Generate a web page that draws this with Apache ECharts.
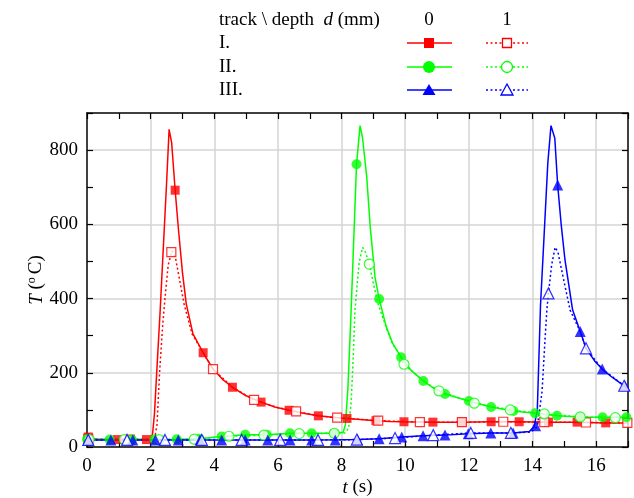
<!DOCTYPE html>
<html><head><meta charset="utf-8">
<script src="https://cdn.jsdelivr.net/npm/echarts@6/dist/echarts.min.js"></script>
<style>html,body{margin:0;padding:0;background:#fff}#c{width:634px;height:498px}</style>
</head><body><div id="c"></div>
<script>
// ---- tick labels ----
const xLabelValues = [0, 2, 4, 6, 8, 10, 12, 14, 16];
const yLabelValues = [0, 200, 400, 600, 800];
// ---- legend texts ----
const trackNames = ['I.', 'II.', 'III.'];
const depthNames = ['0', '1'];
// ---- curves [t (s), T (°C)] ----
const I_d0_curve = [[0,27],[0.3,21],[1,20],[1.5,20],[2.0,21],[2.06,35],[2.12,90],[2.19,200],[2.3,369],[2.4,540],[2.5,710],[2.58,856],[2.66,820],[2.77,692],[2.87,590],[3.0,470],[3.12,385],[3.33,305],[3.65,254],[3.96,210],[4.25,183],[4.57,161],[5.0,138],[5.47,121],[5.9,108],[6.35,99],[6.8,91],[7.27,84],[7.7,80],[8.17,77],[8.6,74],[9.08,71],[9.5,69],[9.96,68],[10.87,67],[11.78,67],[12.7,68],[13.58,68],[14.5,67],[15.4,67],[16.3,65],[17,65]];
const I_d1_curve = [[0,22],[1,20],[2,20],[2.12,21],[2.2,60],[2.28,200],[2.38,330],[2.45,400],[2.55,490],[2.67,528],[2.78,510],[2.9,455],[3.05,385],[3.3,305],[3.65,254],[3.96,210],[4.57,161],[5.25,127],[6.0,106],[6.57,96],[7.27,84],[7.86,79],[8.5,75],[9.15,71],[10.46,67],[11.78,67],[13.08,68],[14.37,67],[15.68,66],[17,65]];
const II_d0_curve = [[0,21],[1,20],[2,20],[3,21],[3.53,22],[4.23,28],[4.97,33],[5.65,33],[6.38,37],[7.06,37],[7.77,37],[8.05,40],[8.12,60],[8.2,160],[8.3,369],[8.47,762],[8.58,866],[8.66,832],[8.79,728],[8.9,593],[9.05,458],[9.18,399],[9.4,325],[9.6,280],[9.87,242],[10.2,205],[10.57,178],[10.9,158],[11.25,143],[12.0,124],[12.7,108],[13.4,97],[14.08,91],[14.77,84],[15.5,81],[16.2,80],[17,80]];
const II_d1_curve = [[0,20],[1,20],[2,20],[3,21],[3.37,21],[4.46,29],[5.56,32],[6.67,36],[7.77,37],[8.1,38],[8.22,50],[8.3,120],[8.37,250],[8.42,369],[8.55,496],[8.66,538],[8.75,525],[8.87,493],[9.0,440],[9.15,385],[9.4,322],[9.6,278],[9.87,242],[9.96,223],[10.57,178],[11.06,151],[12.17,118],[13.3,100],[14.37,89],[15.5,81],[16.6,79],[17,79]];
const III_d0_curve = [[0,19],[2,19],[4,19],[6,19],[7,19],[8,19.5],[8.5,20],[9.18,22],[9.89,27],[10.56,30],[11.25,32],[11.98,36],[12.69,38],[13.39,38],[13.9,42],[14.05,55],[14.15,100],[14.25,380],[14.48,765],[14.58,866],[14.7,832],[14.79,706],[14.9,600],[15.02,504],[15.26,369],[15.5,311],[15.68,266],[15.95,232],[16.19,210],[16.5,188],[16.88,165],[17,158]];
const III_d1_curve = [[0,19],[2,19],[4,19],[6,19],[7.26,19],[8.48,20],[9.68,24],[10.88,32],[12.06,38],[13.32,38],[13.95,40],[14.15,55],[14.3,150],[14.4,300],[14.45,369],[14.5,414],[14.6,490],[14.71,538],[14.8,525],[14.96,458],[15.18,369],[15.5,311],[15.68,266],[16.19,210],[16.88,165],[17,160]];
// ---- markers ----
const I_d0_marks = [[0.04,27],[0.95,20],[1.87,20],[2.77,692],[3.65,254],[4.57,161],[5.47,121],[6.35,99],[7.27,84],[8.17,77],[9.08,71],[9.96,68],[10.87,67],[11.78,67],[12.7,68],[13.58,68],[14.5,67],[15.4,67],[16.3,65]];
const I_d1_marks = [[0.04,22],[1.35,20],[2.65,525],[3.96,210],[5.25,127],[6.57,96],[7.86,79],[9.15,71],[10.46,67],[11.78,67],[13.08,68],[14.37,67],[15.68,66],[16.98,65]];
const II_d0_marks = [[0.0,21],[0.71,20],[1.41,20],[2.12,20],[2.82,21],[3.53,22],[4.23,28],[4.97,33],[5.65,33],[6.38,37],[7.06,37],[7.77,37],[8.47,762],[9.18,399],[9.87,242],[10.57,178],[11.25,143],[12.0,124],[12.7,108],[13.4,97],[14.08,91],[14.77,84],[15.5,81],[16.2,80],[16.95,80]];
const II_d1_marks = [[0.07,20],[1.17,20],[2.26,20],[3.37,21],[4.46,29],[5.56,32],[6.67,36],[7.77,37],[8.87,493],[9.96,223],[11.06,151],[12.17,118],[13.3,100],[14.37,89],[15.5,81],[16.6,79]];
const III_d0_marks = [[0.04,19],[0.75,19],[1.44,19],[2.15,19],[2.87,19],[3.55,19],[4.23,19],[4.97,19],[5.68,19],[6.38,19],[7.06,19],[7.8,19],[8.5,20],[9.18,22],[9.89,27],[10.56,30],[11.25,32],[11.98,36],[12.69,38],[13.39,38],[14.1,57],[14.79,706],[15.5,311],[16.19,210],[16.9,165]];
const III_d1_marks = [[0.04,19],[1.26,19],[2.45,19],[3.61,19],[4.86,19],[6.07,19],[7.26,19],[8.48,20],[9.68,24],[10.88,32],[12.06,38],[13.32,38],[14.5,414],[15.68,266],[16.88,165]];

const colors = ['#ff0000', '#00ff00', '#0000ff'];
const FONT = '"Liberation Serif", "Times New Roman", serif';
const FS = 19;

const curves = [[I_d0_curve, I_d1_curve], [II_d0_curve, II_d1_curve], [III_d0_curve, III_d1_curve]];
const marks = [[I_d0_marks, I_d1_marks], [II_d0_marks, II_d1_marks], [III_d0_marks, III_d1_marks]];
const symbols = ['rect', 'circle', 'triangle'];
const symSizes = [9, 10, 11];

const series = [];
curves.forEach((pair, k) => {
  pair.forEach((data, d) => {
    series.push({
      type: 'line', data: data, showSymbol: false, symbol: 'none', smooth: false,
      xAxisIndex: 0, yAxisIndex: 0, z: 2, animation: false,
      lineStyle: { color: colors[k], width: 1.5, type: d === 0 ? 'solid' : [2, 2.5] }
    });
  });
});
marks.forEach((pair, k) => {
  pair.forEach((data, d) => {
    series.push({
      type: 'scatter', data: data, symbol: symbols[k], symbolSize: symSizes[k],
      xAxisIndex: 0, yAxisIndex: 0, z: 3, animation: false,
      itemStyle: d === 0 ? { color: colors[k] } : { color: '#ffffff', borderColor: colors[k], borderWidth: 1.2 }
    });
  });
});

const axisLineStyle = { show: true, onZero: false, lineStyle: { color: '#000', width: 1.5 } };
const tickStyle = { show: true, inside: true, length: 6, lineStyle: { color: '#000', width: 1.2 } };
const labelStyle = { color: '#000', fontFamily: FONT, fontSize: FS };

const xAxis = [
  { type: 'value', min: 0, max: 17, interval: 1, position: 'bottom', z: 3,
    axisLine: axisLineStyle, axisTick: tickStyle, splitLine: { show: false },
    axisLabel: Object.assign({ margin: 10, formatter: v => xLabelValues.includes(v) ? String(v) : '' }, labelStyle),
    name: '{i|t} (s)', nameLocation: 'middle', nameGap: 31, nameMoveOverlap: false,
    nameTextStyle: { color: '#000', fontFamily: FONT, fontSize: FS, rich: { i: { fontStyle: 'italic', fontFamily: FONT, fontSize: FS } } } },
  { type: 'value', min: 0, max: 17, interval: 1, position: 'top', z: 3,
    axisLine: axisLineStyle, axisTick: tickStyle, splitLine: { show: false }, axisLabel: { show: false } },
  { type: 'value', min: 0, max: 17, interval: 2, position: 'bottom', z: 1,
    axisLine: { show: false }, axisTick: { show: false }, axisLabel: { show: false },
    splitLine: { show: true, showMinLine: false, showMaxLine: false, lineStyle: { color: '#d4d4d4', width: 1.5 } } }
];
const yAxis = [
  { type: 'value', min: 0, max: 900, interval: 100, position: 'left', z: 3,
    axisLine: axisLineStyle, axisTick: tickStyle, splitLine: { show: false },
    axisLabel: Object.assign({ margin: 9, formatter: v => yLabelValues.includes(v) ? String(v) : '' }, labelStyle),
    name: '{i|T} ({s|o }C)', nameLocation: 'middle', nameGap: 40, nameMoveOverlap: false,
    nameTextStyle: { color: '#000', fontFamily: FONT, fontSize: FS,
      rich: { i: { fontStyle: 'italic', fontFamily: FONT, fontSize: FS }, s: { fontFamily: FONT, fontSize: 12, padding: [0, 0, 9, 0] } } } },
  { type: 'value', min: 0, max: 900, interval: 100, position: 'right', z: 3,
    axisLine: axisLineStyle, axisTick: tickStyle, splitLine: { show: false }, axisLabel: { show: false } },
  { type: 'value', min: 0, max: 900, interval: 200, position: 'left', z: 1,
    axisLine: { show: false }, axisTick: { show: false }, axisLabel: { show: false },
    splitLine: { show: true, showMinLine: false, showMaxLine: false, lineStyle: { color: '#d4d4d4', width: 1.5 } } }
];

// ---- legend table (decoration) ----
const graphic = [];
const txt = { fontFamily: FONT, fontSize: FS, fill: '#000', verticalAlign: 'middle' };
graphic.push({ type: 'text', x: 219, y: 20, style: Object.assign({ text: 'track \\ depth  {i|d} (mm)', align: 'left',
  rich: { i: { fontStyle: 'italic', fontFamily: FONT, fontSize: FS } } }, txt) });
const colX = [429, 507];
const lineX = [[407, 452], [486, 528]];
depthNames.forEach((nm, d) => {
  graphic.push({ type: 'text', x: colX[d], y: 20, style: Object.assign({ text: nm, align: 'center' }, txt) });
});
const rowY = [43, 67, 90];
trackNames.forEach((nm, k) => {
  const y = rowY[k];
  graphic.push({ type: 'text', x: 219, y: y, style: Object.assign({ text: nm, align: 'left' }, txt) });
  depthNames.forEach((_, d) => {
    const cx = colX[d];
    graphic.push({ type: 'line', shape: { x1: lineX[d][0], y1: y, x2: lineX[d][1], y2: y },
      style: { stroke: colors[k], lineWidth: 1.5, lineDash: d === 0 ? null : [2, 2.5] } });
    const st = d === 0 ? { fill: colors[k] } : { fill: '#fff', stroke: colors[k], lineWidth: 1.3 };
    if (k === 0) {
      const s = d === 0 ? 10 : 9;
      graphic.push({ type: 'rect', shape: { x: cx - s / 2, y: y - s / 2, width: s, height: s }, style: st });
    } else if (k === 1) {
      graphic.push({ type: 'circle', shape: { cx: cx, cy: y, r: d === 0 ? 6 : 5.5 }, style: st });
    } else {
      const w = d === 0 ? 6.5 : 6;
      graphic.push({ type: 'polygon', shape: { points: [[cx, y - 6], [cx + w, y + 5], [cx - w, y + 5]] }, style: st });
    }
  });
});

const chart = echarts.init(document.getElementById('c'), null, { renderer: 'canvas' });
chart.setOption({
  animation: false,
  backgroundColor: '#fff',
  grid: { left: 87, right: 6, top: 113, bottom: 51, containLabel: false, outerBoundsMode: 'none' },
  xAxis: xAxis,
  yAxis: yAxis,
  series: series,
  graphic: graphic
});
</script>
</body></html>
